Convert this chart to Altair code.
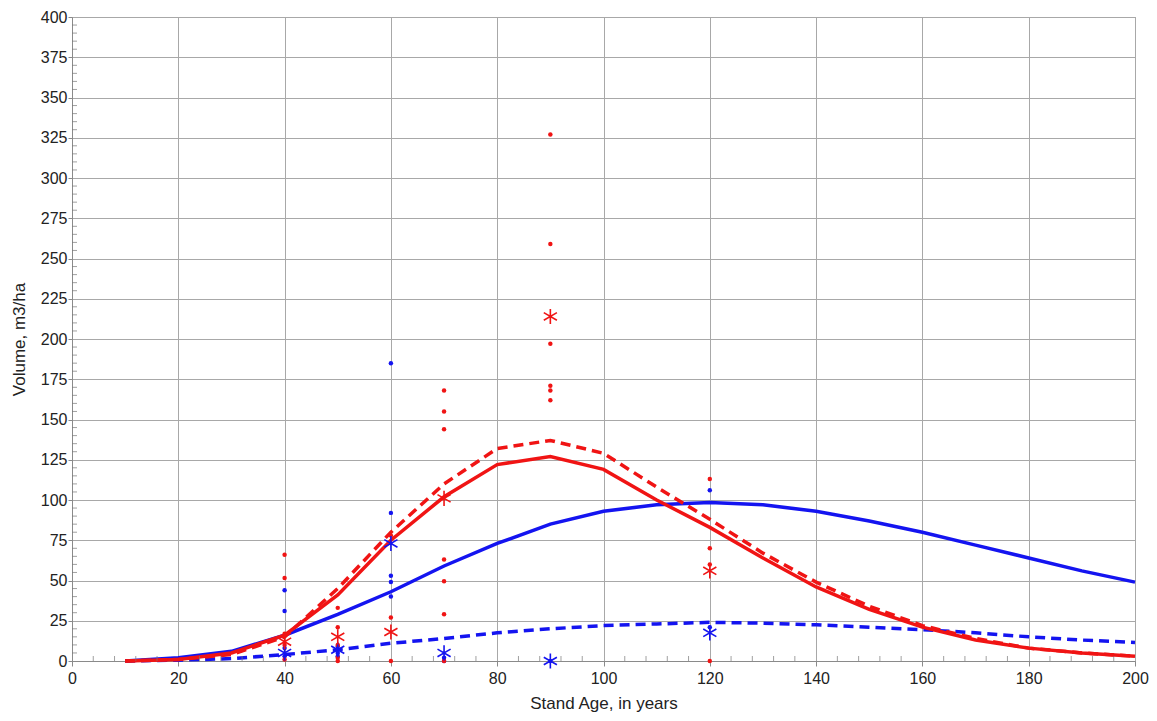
import altair as alt
import pandas as pd

# ---- data ----
ages = [10, 20, 30, 40, 50, 60, 70, 80, 90, 100, 110, 120, 130, 140, 150, 160, 170, 180, 190, 200]
red_solid = [0, 1, 5, 16, 41, 75, 102, 122, 127, 119, 100, 83, 64, 46, 32, 21, 13, 8, 5, 3]
red_dashed = [0, 1, 4, 15, 45, 80, 110, 132, 137, 129, 108, 88, 67, 49, 34, 22, 14, 8, 5, 3]
blue_solid = [0, 2, 6, 16, 29, 43, 59, 73, 85, 93, 97, 98.5, 97, 93, 87, 80, 72, 64, 56, 49]
blue_dashed = [0, 0.5, 1.5, 4, 7, 11, 14, 17.5, 20, 22, 23, 24, 23.5, 22.5, 21, 19.5, 17.5, 15, 13, 11.5]

red_obs_x = [40, 40, 40, 40, 40, 50, 50, 50, 50, 50, 60, 60, 60, 70, 70, 70, 70, 70, 70, 70,
             90, 90, 90, 90, 90, 90, 120, 120, 120, 120]
red_obs_y = [66, 51.5, 17, 10, 1, 33, 21, 10, 2, 0, 78, 27, 0, 168, 155, 144, 63, 49.5, 29, 0,
             327, 259, 197, 171, 168, 162, 113, 70, 60, 0]
blue_obs_x = [40, 40, 40, 40, 50, 50, 50, 60, 60, 60, 60, 60, 70, 70, 90, 120, 120]
blue_obs_y = [44, 31, 8, 3, 9, 5, 3, 185, 92, 53, 49, 40, 2, 0, 0, 106, 21]

red_mean_x = [40, 50, 60, 70, 90, 120]
red_mean_y = [12, 15, 18, 101, 214, 56]
blue_mean_x = [40, 50, 60, 70, 90, 120]
blue_mean_y = [5, 7, 73, 5, 0, 17.5]

x_ticks = list(range(0, 201, 20))
y_ticks = list(range(0, 401, 25))
x_minor = [v for v in range(0, 201, 4) if v % 20 != 0]
y_minor = [v for v in range(0, 401, 5) if v % 25 != 0]

RED = "#f01414"
BLUE = "#1414f0"
FONT = "Liberation Sans"

W, H = 1063, 644

xscale = alt.Scale(domain=[0, 200], nice=False, zero=False)
yscale = alt.Scale(domain=[0, 400], nice=False, zero=False)

xaxis = alt.Axis(values=x_ticks, title="Stand Age, in years", grid=True, tickSize=5,
                 labelPadding=4, titlePadding=9, labelFlush=False)
yaxis = alt.Axis(values=y_ticks, title="Volume, m3/ha", grid=True, tickSize=4,
                 labelPadding=1, titlePadding=12, labelFlush=False)

X = alt.X("age:Q", scale=xscale, axis=xaxis)
Y = alt.Y("vol:Q", scale=yscale, axis=yaxis)


def line(vals, color, dashed):
    df = pd.DataFrame({"age": ages, "vol": vals})
    kw = dict(strokeWidth=3.5, color=color)
    if dashed:
        kw["strokeDash"] = [10, 6]
    return alt.Chart(df).mark_line(**kw).encode(x=X, y=Y)


def dots(xs, ys, color):
    df = pd.DataFrame({"age": xs, "vol": ys})
    return alt.Chart(df).mark_circle(size=20, opacity=1, color=color).encode(x=X, y=Y)


ASTERISK = "M0,-1L0,1M-0.866,-0.5L0.866,0.5M-0.866,0.5L0.866,-0.5"


def stars(xs, ys, color):
    df = pd.DataFrame({"age": xs, "vol": ys})
    return alt.Chart(df).mark_point(shape=ASTERISK, size=230, filled=False, strokeWidth=1.6,
                                    opacity=1, color=color).encode(x=X, y=Y)


xminor = alt.Chart(pd.DataFrame({"age": x_minor})).mark_tick(color="#777", thickness=1, size=5).encode(
    x=X, y=alt.value(H - 2.5)
)
yminor = alt.Chart(pd.DataFrame({"vol": y_minor})).mark_tick(color="#777", thickness=1, size=5).encode(
    y=Y, x=alt.value(2.5)
)

chart = alt.layer(
    line(blue_solid, BLUE, False),
    line(blue_dashed, BLUE, True),
    line(red_solid, RED, False),
    line(red_dashed, RED, True),
    dots(blue_obs_x, blue_obs_y, BLUE),
    dots(red_obs_x, red_obs_y, RED),
    stars(blue_mean_x, blue_mean_y, BLUE),
    stars(red_mean_x, red_mean_y, RED),
    xminor, yminor,
).properties(
    width=W, height=H,
    autosize=alt.AutoSizeParams(type="none"),
    padding={"left": 64, "top": 9, "right": 14, "bottom": 52},
).configure_view(
    stroke="#8a8a8a", strokeWidth=1
).configure_axis(
    labelFont=FONT, titleFont=FONT, labelFontSize=16, titleFontSize=17,
    labelColor="#222", titleColor="#222", titleFontWeight="normal",
    gridColor="#a8a8a8", gridWidth=1, gridOpacity=1,
    domainColor="#8a8a8a", tickColor="#8a8a8a",
)

chart.save("out.html", embed_options={"renderer": "svg", "actions": False})
